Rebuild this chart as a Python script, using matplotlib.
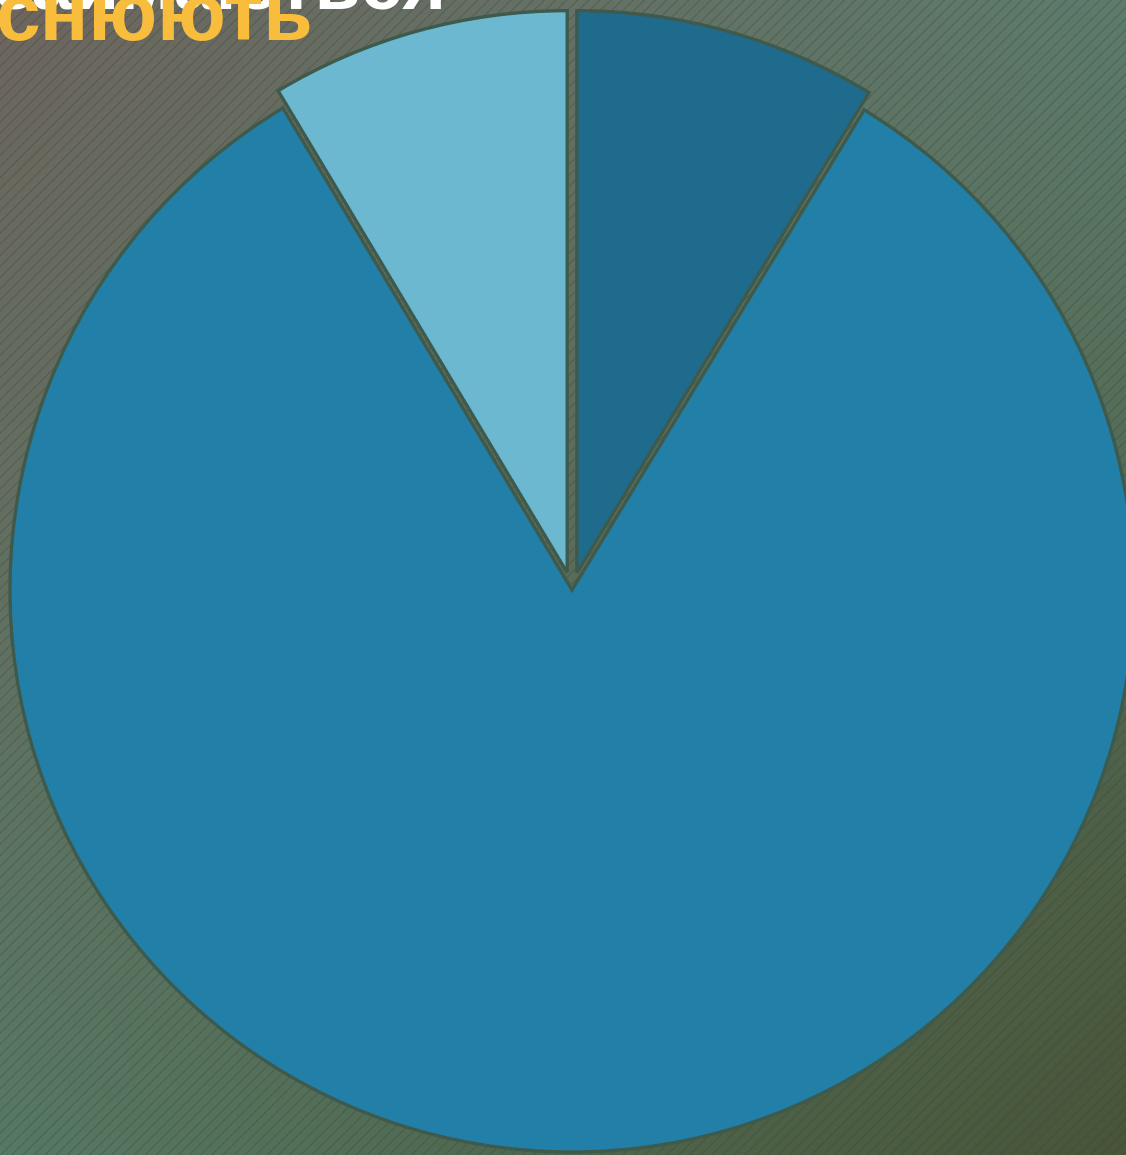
import numpy as np
import matplotlib.pyplot as plt
from matplotlib.patches import Rectangle

# slices, clockwise from 12 o'clock
labels = ["Частина 1", "Частина 2", "Частина 3"]
values = [8.7, 82.7, 8.6]
colors = ["#1f6b8e", "#2280a8", "#6cb8d0"]
explode = [0.032, 0.0, 0.032]

title_white = "займаються"
title_yellow = "снюють"

W, H = 1126, 1155
fig = plt.figure(figsize=(W / 100, H / 100), dpi=100)

# background gradient
bg = fig.add_axes([0, 0, 1, 1])
bg.set_axis_off()
tl = np.array([0x6d, 0x66, 0x5e]) / 255
tr = np.array([0x5c, 0x7c, 0x6c]) / 255
bl = np.array([0x56, 0x79, 0x64]) / 255
br = np.array([0x48, 0x55, 0x38]) / 255
yy, xx = np.mgrid[0:1:200j, 0:1:200j]
img = (tl * ((1 - xx) * (1 - yy))[..., None] + tr * (xx * (1 - yy))[..., None]
       + bl * ((1 - xx) * yy)[..., None] + br * (xx * yy)[..., None])
bg.imshow(img, extent=[0, 1, 0, 1], aspect="auto", origin="upper")
plt.rcParams["hatch.linewidth"] = 0.8
bg.add_patch(Rectangle((0, 0), 1, 1, facecolor="none", edgecolor=(0.25, 0.25, 0.22, 0.35),
                       hatch="///", linewidth=0))
bg.set_xlim(0, 1)
bg.set_ylim(0, 1)

# pie
cx, cy, r = 572, 590, 562
ax = fig.add_axes([(cx - r) / W, (H - cy - r) / H, 2 * r / W, 2 * r / H])
wedges, _ = ax.pie(values, colors=colors, explode=explode, startangle=90, counterclock=False,
                   wedgeprops=dict(edgecolor="#3e5a4c", linewidth=2.4))
for w in wedges:
    w.set_clip_on(False)
ax.set_xlim(-1, 1)
ax.set_ylim(-1, 1)
ax.set_aspect("auto")
ax.set_axis_off()

fig.text(-0.004, 1 - 9 / H, title_white, color="white", fontsize=54, fontweight="bold",
         family="Liberation Sans", ha="left", va="baseline")
fig.text(-0.004, 1 - 40 / H, title_yellow, color="#f8bd3c", fontsize=58, fontweight="bold",
         family="Liberation Sans", ha="left", va="baseline")

fig.savefig("out.png", dpi=100)
